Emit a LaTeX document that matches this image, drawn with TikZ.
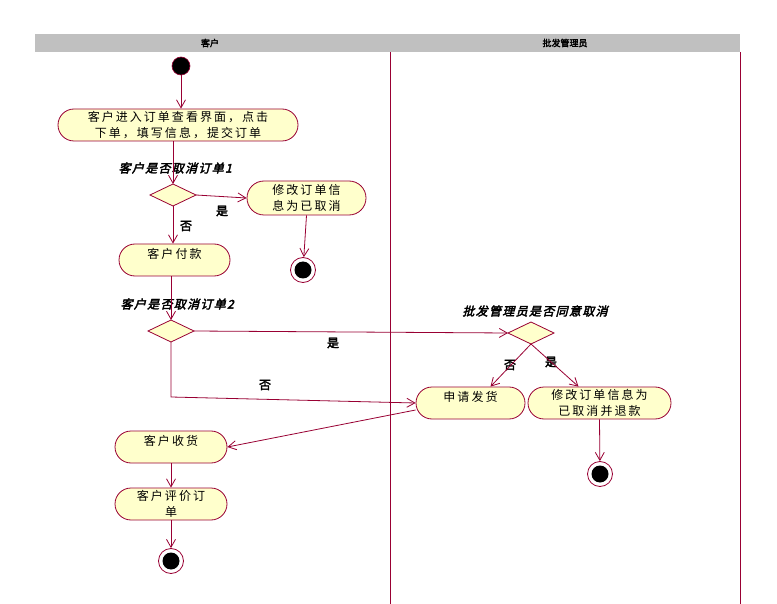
\documentclass[tikz,border=0pt]{standalone}
\usepackage{fontspec}
\usetikzlibrary{arrows.meta,calc}
\newfontfamily\cjk[LetterSpace=17]{Noto Sans CJK SC}
\newfontfamily\cjkbi[FakeBold=3,FakeSlant=0.25,LetterSpace=11]{Noto Sans CJK SC}
\newfontfamily\cjkb[FakeBold=3]{Noto Sans CJK SC}
\definecolor{umlline}{HTML}{990033}
\definecolor{umlfill}{HTML}{FFFFCC}
\definecolor{lanehead}{HTML}{C0C0C0}
\begin{document}
\begin{tikzpicture}[x=1pt,y=-1pt,
  flow/.style={draw=umlline,line width=0.8pt,-{Straight Barb[length=8pt,width=9pt]}},
  plain/.style={draw=umlline,line width=0.8pt},
  act/.style={draw=umlline,fill=umlfill,line width=0.8pt,rounded corners=16pt,
    minimum height=32pt,inner sep=0pt,align=center,font=\cjk\fontsize{12}{16}\selectfont},
  startdot/.style={circle,fill=black,draw=umlline,line width=0.6pt,minimum size=18pt,inner sep=0pt},
  enddot/.style={circle,fill=white,draw=umlline,line width=0.8pt,minimum size=25pt,inner sep=0pt,
    path picture={\fill[black] (path picture bounding box.center) circle (8.5pt);}},
  dia/.style={draw=umlline,fill=umlfill,line width=0.8pt},
  guard/.style={font=\cjkb\fontsize{12}{14}\selectfont},
  cond/.style={font=\cjkbi\fontsize{12}{14}\selectfont},
  lanetitle/.style={font=\cjkb\fontsize{9}{10}\selectfont}]
\useasboundingbox (0,0) rectangle (777,604);
\fill[white] (0,0) rectangle (777,604);

% swimlane header and borders
\fill[lanehead] (35,34) rectangle (740,52);
\node[lanetitle] (h1) at (210,43) {客户};
\node[lanetitle] (h2) at (565,43) {批发管理员};
\draw[plain] (390,52) -- (390,604);
\draw[plain] (740,52) -- (740,604);

% activities, decisions and end points
\node[startdot] (s0) at (181,66) {};
\node[act,minimum width=240pt] (a1) at (178,125) {客户进入订单查看界面，点击\\下单，填写信息，提交订单};
\path[dia] (150,195) -- (173,184) -- (196,195) -- (173,206) -- cycle;
\coordinate (d1n) at (173,184); \coordinate (d1e) at (196,195); \coordinate (d1s) at (173,206);
\node[act,minimum width=119pt,minimum height=34pt,rounded corners=17pt] (a2) at (306.5,198) {修改订单信\\息为已取消};
\node[act,minimum width=111pt] (a3) at (174.5,260) {};
\node[font=\cjk\fontsize{12}{16}\selectfont] (a3t) at (174.5,254) {客户付款};
\node[enddot] (e1) at (303,270) {};

\path[dia] (148,331) -- (171,320) -- (194,331) -- (171,342) -- cycle;
\coordinate (d2n) at (171,320); \coordinate (d2e) at (194,331); \coordinate (d2s) at (171,342);
\path[dia] (508,333) -- (531,322) -- (554,333) -- (531,344) -- cycle;
\coordinate (d3w) at (508,333); \coordinate (d3s) at (531,344);

\node[act,minimum width=109pt] (a4) at (470.5,403) {};
\node[font=\cjk\fontsize{12}{16}\selectfont] (a4t) at (470.5,397) {申请发货};
\node[act,minimum width=143pt] (a5) at (599.5,403) {修改订单信息为\\已取消并退款};
\node[enddot] (e3) at (600,474) {};
\node[act,minimum width=112pt] (a6) at (171,447) {};
\node[font=\cjk\fontsize{12}{16}\selectfont] (a6t) at (171,441) {客户收货};
\node[act,minimum width=112pt] (a7) at (171,504) {客户评价订\\单};
\node[enddot] (e2) at (171,561) {};

% conditions and guards
\node[cond,anchor=west] (c1) at (115,168) {客户是否取消订单1};
\node[cond,anchor=west] (c2) at (117,304) {客户是否取消订单2};
\node[cond] (c3) at (535,311) {批发管理员是否同意取消};
\node[guard] (g1) at (222,211) {是};
\node[guard] (g2) at (186,226) {否};
\node[guard] (g3) at (333,343) {是};
\node[guard] (g4) at (265,385) {否};
\node[guard] (g5) at (510,365) {否};
\node[guard] (g6) at (551,362) {是};

% transitions
\draw[flow] (s0) -- (s0 |- a1.north);
\draw[flow] (a1.south -| d1n) -- (d1n);
\draw[flow] (d1e) -- (a2.west);
\draw[flow] (d1s) -- (d1s |- a3.north);
\draw[flow] (a2.south) -- (e1);
\draw[flow] (a3.south -| d2n) -- (d2n);
\draw[flow] (d2e) -- (d3w);
\coordinate (k1) at (171,397);
\draw[flow] (d2s) -- (k1) -- (a4.west);
\draw[flow] (d3s) -- ([xshift=20pt]a4.north);
\draw[flow] (d3s) -- ([xshift=-21pt]a5.north);
\draw[flow] (a5.south) -- (e3);
\draw[flow] ([yshift=-7pt]a4.west) -- (a6.east);
\draw[flow] (a6.south) -- (a7.north);
\draw[flow] (a7.south) -- (e2);
\end{tikzpicture}
\end{document}
